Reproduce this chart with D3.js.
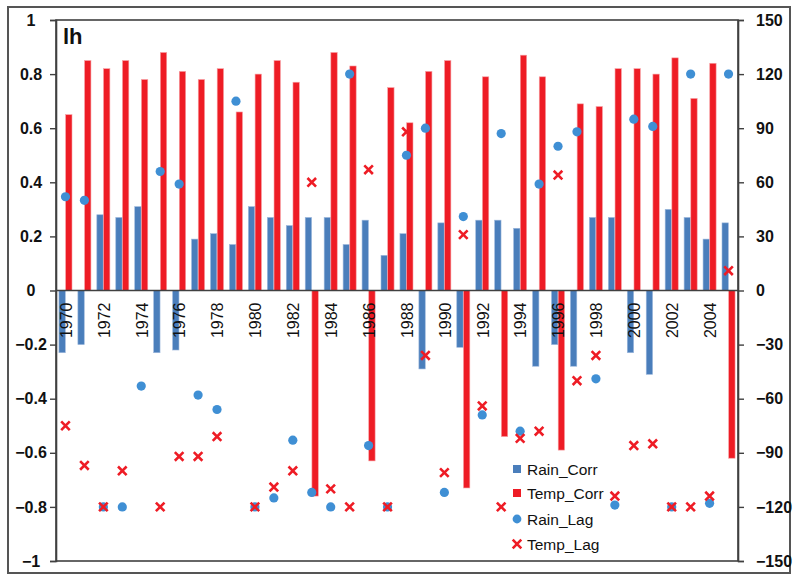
<!DOCTYPE html>
<html>
<head>
<meta charset="utf-8">
<script src="https://cdn.jsdelivr.net/npm/d3@7"></script>
<style>
  html, body { margin: 0; padding: 0; background: #fff; }
  svg { display: block; font-family: "Liberation Sans", Arial, sans-serif; }
</style>
</head>
<body>
<svg id="chart" width="800" height="580"></svg>
<script>
const years = d3.range(1970, 2006);
const rainCorr = [-0.23, -0.20, 0.28, 0.27, 0.31, -0.23, -0.22, 0.19, 0.21, 0.17,
  0.31, 0.27, 0.24, 0.27, 0.27, 0.17, 0.26, 0.13, 0.21, -0.29,
  0.25, -0.21, 0.26, 0.26, 0.23, -0.28, -0.20, -0.28, 0.27, 0.27,
  -0.23, -0.31, 0.30, 0.27, 0.19, 0.25];
const tempCorr = [0.65, 0.85, 0.82, 0.85, 0.78, 0.88, 0.81, 0.78, 0.82, 0.66,
  0.80, 0.85, 0.77, -0.76, 0.88, 0.83, -0.63, 0.75, 0.62, 0.81,
  0.85, -0.73, 0.79, -0.54, 0.87, 0.79, -0.59, 0.69, 0.68, 0.82,
  0.82, 0.80, 0.86, 0.71, 0.84, -0.62];
const rainLag = [52, 50, -120, -120, -53, 66, 59, -58, -66, 105,
  -120, -115, -83, -112, -120, 120, -86, -120, 75, 90,
  -112, 41, -69, 87, -78, 59, 80, 88, -49, -119,
  95, 91, -120, 120, -118, 120];
const tempLag = [-75, -97, -120, -100, null, -120, -92, -92, -81, null,
  -120, -109, -100, 60, -110, -120, 67, -120, 88, -36,
  -101, 31, -64, -120, -82, -78, 64, -50, -36, -114,
  -86, -85, -120, -120, -114, 11];
const leftTicks = [1, 0.8, 0.6, 0.4, 0.2, 0, -0.2, -0.4, -0.6, -0.8, -1];
const rightTicks = [150, 120, 90, 60, 30, 0, -30, -60, -90, -120, -150];
const yearLabels = years.filter(y => (y - 1970) % 2 === 0);
const seriesNames = ["Rain_Corr", "Temp_Corr", "Rain_Lag", "Temp_Lag"];

const C = { rainBar: "#4A7EBB", tempBar: "#EE1C25", rainDot: "#3F8FD4", tempX: "#EE1C25", axis: "#404040" };
const M = { left: 56, right: 738, top: 20, bottom: 561 };

const svg = d3.select("#chart");

// outer chart border
svg.append("rect").attr("x", 8).attr("y", 7).attr("width", 782).attr("height", 566)
  .attr("fill", "none").attr("stroke", "#555").attr("stroke-width", 2);

const x = d3.scaleBand().domain(years).range([M.left, M.right]).paddingInner(0).paddingOuter(0);
const inner = d3.scaleBand().domain(["r", "t"]).range([0, x.bandwidth()]).paddingInner(0.05).paddingOuter(0.44);
const y = d3.scaleLinear().domain([-1, 1]).range([M.bottom, M.top]);
const y2 = d3.scaleLinear().domain([-150, 150]).range([M.bottom, M.top]);

// bars
const g = svg.append("g");
g.selectAll("rect.rain").data(years).join("rect")
  .attr("x", (d) => x(d) + inner("r"))
  .attr("width", inner.bandwidth())
  .attr("y", (d, i) => y(Math.max(0, rainCorr[i])))
  .attr("height", (d, i) => Math.abs(y(rainCorr[i]) - y(0)))
  .attr("fill", C.rainBar).attr("stroke", "#9db8dc").attr("stroke-width", 0.6);
g.selectAll("rect.temp").data(years).join("rect")
  .attr("x", (d) => x(d) + inner("t"))
  .attr("width", inner.bandwidth())
  .attr("y", (d, i) => y(Math.max(0, tempCorr[i])))
  .attr("height", (d, i) => Math.abs(y(tempCorr[i]) - y(0)))
  .attr("fill", C.tempBar).attr("stroke", "#f7a0a4").attr("stroke-width", 0.6);

// zero line
svg.append("line").attr("x1", M.left).attr("x2", M.right).attr("y1", y(0)).attr("y2", y(0))
  .attr("stroke", C.axis).attr("stroke-width", 1.5);

// year labels
svg.append("g").selectAll("text").data(yearLabels).join("text")
  .attr("transform", d => `translate(${x(d) + x.bandwidth() / 2 + 0.5},${y(0) + 12}) rotate(-90)`)
  .attr("text-anchor", "end").attr("dy", "0.36em")
  .attr("font-size", 16).attr("fill", "#111").text(d => d);

// scatter points
const cx = d => x(d) + x.bandwidth() / 2;
svg.append("g").selectAll("circle").data(years).join("circle")
  .attr("cx", cx).attr("cy", (d, i) => y2(rainLag[i])).attr("r", 4.6)
  .attr("fill", C.rainDot);
const xs = 4.3;
const tg = svg.append("g");
years.forEach((d, i) => {
  if (tempLag[i] === null) return;
  const px = cx(d), py = y2(tempLag[i]);
  tg.append("path")
    .attr("d", `M${px - xs},${py - xs}L${px + xs},${py + xs}M${px - xs},${py + xs}L${px + xs},${py - xs}`)
    .attr("stroke", C.tempX).attr("stroke-width", 2.6).attr("fill", "none");
});

// plot frame
svg.append("rect").attr("x", M.left).attr("y", M.top).attr("width", M.right - M.left).attr("height", M.bottom - M.top)
  .attr("fill", "none").attr("stroke", C.axis).attr("stroke-width", 1.6);

// left axis
const la = svg.append("g").attr("transform", `translate(${M.left},0)`)
  .call(d3.axisLeft(y).tickValues(leftTicks).tickSize(6).tickFormat(d => d3.format("")(d)));
la.select(".domain").attr("stroke", C.axis).attr("stroke-width", 1.6);
la.selectAll(".tick line").attr("stroke", C.axis).attr("stroke-width", 1.4);
la.selectAll(".tick text").attr("x", -25).attr("text-anchor", "middle")
  .attr("font-size", 16).attr("font-weight", "bold").attr("fill", "#111").attr("font-family", "Liberation Sans, Arial, sans-serif");

// right axis
const ra = svg.append("g").attr("transform", `translate(${M.right},0)`)
  .call(d3.axisRight(y2).tickValues(rightTicks).tickSize(6));
ra.select(".domain").attr("stroke", C.axis).attr("stroke-width", 1.6);
ra.selectAll(".tick line").attr("stroke", C.axis).attr("stroke-width", 1.4);
ra.selectAll(".tick text").attr("x", 18).attr("text-anchor", "start")
  .attr("font-size", 16).attr("font-weight", "bold").attr("fill", "#111").attr("font-family", "Liberation Sans, Arial, sans-serif");

// panel label
svg.append("text").attr("x", 63).attr("y", 44).attr("font-size", 22).attr("font-weight", "bold")
  .attr("fill", "#111").text("lh");

// legend
const lg = svg.append("g");
const ly = [469, 493, 519, 544];
seriesNames.forEach((name, i) => {
  const mx = 517, my = ly[i];
  if (i === 0) lg.append("rect").attr("x", mx - 4).attr("y", my - 4).attr("width", 8).attr("height", 8).attr("fill", C.rainBar);
  if (i === 1) lg.append("rect").attr("x", mx - 4).attr("y", my - 4).attr("width", 8).attr("height", 8).attr("fill", C.tempBar);
  if (i === 2) lg.append("circle").attr("cx", mx).attr("cy", my).attr("r", 4.4).attr("fill", C.rainDot);
  if (i === 3) lg.append("path").attr("d", `M${mx - xs},${my - xs}L${mx + xs},${my + xs}M${mx - xs},${my + xs}L${mx + xs},${my - xs}`)
    .attr("stroke", C.tempX).attr("stroke-width", 2.6);
  lg.append("text").attr("x", 527).attr("y", my).attr("dy", "0.36em").attr("font-size", 15.5)
    .attr("fill", "#111").text(name);
});
</script>
</body>
</html>
